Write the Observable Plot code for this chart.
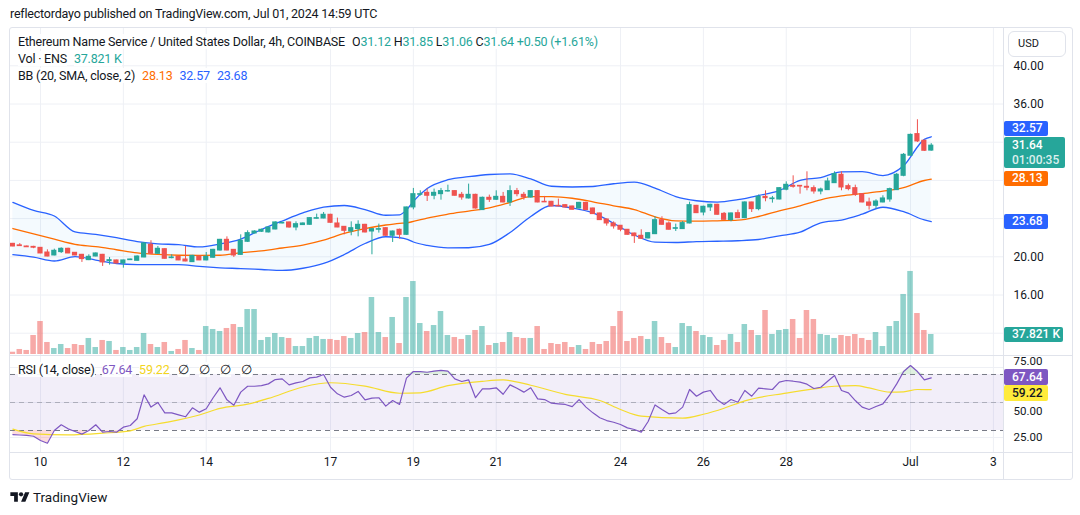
<!DOCTYPE html>
<html>
<head>
<meta charset="utf-8">
<script src="https://cdn.jsdelivr.net/npm/d3@7"></script>
<script src="https://cdn.jsdelivr.net/npm/@observablehq/plot@0.6"></script>
<style>
  html,body{margin:0;padding:0;background:#fff;}
  #root{position:relative;width:1080px;height:515px;overflow:hidden;font-family:Roboto,"Noto Sans",sans-serif;color:#131722;}
  #root svg{position:absolute;left:0;top:0;}
  .a{position:absolute;white-space:nowrap;}
  .lg{font-size:12.5px;line-height:16px;letter-spacing:-0.2px;}
  .lg span{background:rgba(255,255,255,0.92);}
  .lg span.g{margin-left:7px;}
  .tag{position:absolute;left:1004px;border-radius:2px;font-size:12px;font-weight:500;padding-left:8px;box-sizing:border-box;line-height:15px;white-space:nowrap;}
  .line{position:absolute;background:#e0e3eb;}
</style>
</head>
<body>
<div id="root"></div>
<script>
// ---------- data ----------
const open = [
 21.36,21.20,21.08,21.04,20.94,20.45,20.14,20.49,20.84,20.42,
 20.21,19.65,20.03,20.21,19.55,19.62,19.30,19.65,19.58,19.93,
 21.26,20.31,20.80,19.86,20.00,19.72,19.44,20.03,19.62,19.90,
 20.66,21.78,20.73,20.20,21.57,22.44,22.62,22.55,22.86,23.49,
 23.60,23.07,23.32,23.35,23.98,24.01,24.40,23.49,23.14,22.65,
 22.90,23.35,22.65,22.83,23.00,22.20,22.83,22.30,25.17,26.49,
 26.70,26.39,26.56,26.84,26.88,26.49,26.11,26.49,24.89,26.18,
 25.97,26.28,25.69,26.88,26.49,26.21,26.88,25.76,25.76,25.34,
 25.41,25.27,25.06,25.65,25.06,24.54,23.91,23.49,23.25,22.83,
 22.44,22.20,21.92,22.37,23.84,23.49,22.93,22.90,23.49,25.34,
 24.64,25.17,25.45,24.50,23.84,24.57,24.05,25.69,24.99,26.28,
 26.04,26.00,27.02,27.43,27.43,27.33,27.19,26.84,26.98,27.71,
 28.59,27.40,27.19,26.56,25.69,25.34,25.69,26.00,26.98,28.48,
 30.58,32.85,32.15,31.12];
const high = [
 21.40,21.38,21.12,21.10,20.96,20.73,20.80,20.94,20.90,20.45,
 20.25,20.21,20.40,20.25,19.93,19.65,19.65,19.75,20.10,21.45,
 21.68,21.08,20.85,20.21,20.05,21.08,20.15,20.05,20.45,20.78,
 21.82,22.09,20.76,22.30,22.72,22.72,22.90,23.10,23.66,23.63,
 23.63,23.66,23.55,24.10,24.47,24.64,24.45,24.05,23.17,23.66,
 23.77,23.40,22.95,23.42,23.05,22.70,22.90,25.20,27.16,26.91,
 27.09,27.09,27.16,27.50,26.92,26.74,27.61,26.55,26.25,26.46,
 26.91,26.74,27.43,27.16,26.74,26.92,26.92,26.32,25.80,26.04,
 25.45,25.30,25.70,25.72,25.10,24.57,23.95,23.66,23.28,22.86,
 22.48,22.83,22.52,24.19,24.19,23.66,23.42,23.70,25.72,25.38,
 25.30,25.50,25.50,24.64,24.58,24.89,25.75,25.72,26.46,26.91,
 26.32,27.22,27.85,28.48,27.46,28.90,27.43,27.19,28.24,28.90,
 28.90,27.61,27.50,26.60,26.14,25.97,26.39,27.19,28.73,30.82,
 32.85,34.35,32.22,31.85];
const low = [
 21.05,21.10,20.98,20.85,20.33,20.00,20.10,20.35,20.33,20.10,
 19.41,19.60,20.00,18.99,19.13,19.28,18.81,19.62,19.55,19.90,
 20.30,20.28,19.75,19.79,19.60,19.48,19.40,19.60,19.58,19.85,
 20.60,20.62,19.93,20.15,21.50,22.40,22.55,22.50,22.83,23.45,
 23.00,22.72,23.30,23.30,23.95,23.98,23.50,23.05,22.30,22.20,
 22.09,22.50,20.21,22.48,22.15,21.50,21.85,22.25,24.92,26.35,
 25.79,25.97,25.93,26.77,26.35,25.93,26.05,25.00,24.85,25.69,
 25.90,25.65,25.27,26.28,25.93,26.15,25.65,25.68,25.24,25.25,
 25.13,24.90,25.02,24.85,24.45,23.80,23.21,22.90,22.62,22.27,
 21.40,21.85,21.88,22.33,23.30,22.80,22.65,22.86,23.45,24.53,
 24.29,24.75,24.35,23.84,23.66,24.00,24.00,24.64,24.82,25.76,
 25.62,25.97,26.91,27.19,26.56,26.91,26.56,26.49,26.95,27.68,
 26.91,26.91,26.32,25.65,24.89,24.99,25.65,25.72,26.95,28.38,
 30.55,31.97,31.03,31.06];
const close = [
 21.08,21.12,21.00,20.95,20.35,20.03,20.63,20.84,20.35,20.14,
 19.76,20.00,20.35,19.41,19.65,19.30,19.62,19.72,20.03,21.40,
 20.31,20.84,19.79,19.93,19.62,19.51,20.10,19.62,20.00,20.73,
 21.78,20.66,20.14,21.68,22.48,22.65,22.83,23.07,23.60,23.56,
 23.07,23.42,23.49,24.05,24.05,24.40,23.56,23.07,22.72,23.00,
 23.35,22.55,22.90,22.90,22.20,22.65,22.30,25.17,26.56,26.56,
 26.39,26.70,26.88,26.88,26.39,26.21,26.49,25.06,26.18,25.97,
 26.28,25.69,26.88,26.56,26.21,26.88,25.69,25.70,25.27,25.28,
 25.17,24.92,25.65,24.89,24.47,23.84,23.49,23.18,22.83,22.30,
 22.16,21.88,22.48,23.84,23.35,22.83,23.00,23.53,25.41,24.57,
 25.24,25.45,24.40,23.87,24.54,24.05,25.69,24.99,26.28,26.14,
 26.11,27.19,27.54,27.33,27.36,27.23,26.84,27.05,27.89,28.66,
 27.26,27.09,26.49,25.69,25.34,25.79,26.11,27.09,28.59,30.68,
 32.77,32.08,31.10,31.64];
// volume in thousands of ENS
const volume = [
 4.3,9.5,7.6,35.9,62.4,22.7,11.3,18.9,11.3,18.9,
 17.0,30.3,13.2,26.5,24.6,7.6,13.2,7.6,13.2,39.7,
 18.9,13.2,22.7,5.7,9.5,26.5,11.3,7.6,52.9,47.3,
 43.5,49.2,56.7,51.1,85.1,85.1,26.5,32.1,39.7,32.1,
 30.3,15.1,15.1,30.3,34.0,28.4,28.4,26.5,34.0,30.3,
 39.7,41.6,107.8,41.6,32.1,70.0,20.8,107.8,138.0,58.6,
 43.5,54.8,81.3,35.9,32.1,28.4,35.9,45.4,52.9,17.0,
 20.8,22.7,41.6,32.1,30.3,30.3,52.9,9.5,20.8,18.9,
 22.7,13.2,17.0,9.5,22.7,18.9,24.6,52.9,81.3,24.6,
 30.3,34.0,28.4,62.4,32.1,20.8,13.2,58.6,52.9,43.5,
 35.9,32.1,17.0,26.5,37.8,22.7,56.7,45.4,35.9,83.2,
 37.8,45.4,47.3,66.2,30.3,83.2,66.2,37.8,35.9,30.3,
 35.9,34.0,37.8,30.3,26.5,41.6,15.1,52.9,62.4,113.5,
 157.0,77.5,45.4,37.821];
const rsi = [
 27.1,26.8,26.5,25.9,22.9,20.9,30.0,34.1,31.2,29.3,
 27.4,30.0,34.1,28.8,29.3,28.8,32.4,33.6,38.4,55.5,
 46.7,50.0,42.6,42.6,41.2,39.8,46.2,43.1,45.5,53.4,
 60.5,51.9,48.1,57.4,61.6,61.6,62.1,63.3,66.4,66.9,
 62.6,64.0,65.0,67.6,68.1,70.0,60.9,56.2,53.8,55.0,
 57.9,51.9,53.1,53.4,47.4,51.4,48.6,67.4,72.1,72.1,
 71.6,72.4,72.9,72.4,66.9,65.0,66.2,53.4,59.8,59.8,
 60.5,55.9,62.6,60.2,57.4,60.5,52.6,52.1,49.5,49.0,
 48.6,47.1,52.1,46.7,42.6,39.1,37.1,35.9,34.3,31.9,
 30.7,28.8,36.4,48.3,45.0,41.9,42.6,46.7,59.3,54.5,
 57.4,58.6,51.9,48.6,52.1,50.2,58.6,54.5,60.2,59.8,
 59.3,64.5,65.7,65.2,64.5,63.1,60.0,60.9,65.2,69.3,
 58.6,56.9,51.4,46.7,45.0,47.1,49.0,55.5,63.3,72.1,
 76.4,72.1,66.2,67.64];
// Bollinger band readings at selected candle indices
const bbIdx = [0,3,6,9,12,15,18,21,24,27,30,33,36,39,42,45,48,51,54,56,57,58,60,63,66,69,72,75,78,81,84,87,90,93,96,99,102,105,108,111,114,117,120,123,126,129,132,133];
const bbUpper = [25.69,24.85,24.27,22.60,22.34,22.00,21.60,21.36,21.27,21.03,21.34,21.86,22.86,23.75,24.59,25.21,25.37,24.95,24.35,24.40,24.90,25.81,27.15,28.07,28.39,28.62,28.69,28.15,27.39,27.31,27.36,27.65,27.83,27.20,26.31,25.87,25.72,25.98,26.42,26.94,27.99,28.30,28.90,28.91,28.51,29.53,32.30,32.57];
const bbMiddle = [22.96,22.39,21.84,21.31,21.06,20.74,20.42,20.25,20.16,20.14,20.16,20.43,20.62,20.92,21.23,21.74,22.45,22.94,23.33,23.51,23.56,23.70,24.06,24.46,24.79,25.13,25.69,26.31,26.30,26.13,25.76,25.34,24.95,24.19,23.77,23.73,23.77,23.83,24.22,24.81,25.34,25.97,26.37,26.61,26.87,27.24,27.99,28.13];
const bbLower = [20.22,19.96,19.56,20.01,19.66,19.30,19.19,19.19,19.19,18.99,18.85,18.77,18.67,18.57,18.80,19.30,20.24,21.39,22.10,22.00,21.86,21.55,21.20,20.94,20.95,21.29,22.54,24.22,25.37,25.11,24.59,23.51,22.28,21.53,21.50,21.59,21.63,21.68,21.81,22.20,22.58,23.56,23.85,24.46,25.19,24.72,23.86,23.68];
// RSI-based moving average readings
const maIdx = [0,3,8,13,17,19,22,27,30,34,37,42,46,51,56,59,63,68,71,75,80,85,88,91,97,100,103,106,112,116,119,122,124,127,129,131,133];
const rsiMA = [31.0,27.6,26.9,28.1,29.8,32.9,35.6,41.1,45.8,48.8,52.9,61.1,64.1,61.7,56.6,56.9,62.0,65.1,66.1,62.3,55.8,51.4,45.0,40.3,38.8,41.6,45.9,51.2,56.7,59.7,61.6,62.0,60.4,57.4,57.6,59.3,59.22];

const priceTicks = [40, 36, 20, 16];
const priceGrid = [12, 16, 20, 24, 28, 32, 36, 40];
const rsiTicks = [75, 50, 25];
const dateTickDays = ["2024-06-10","2024-06-12","2024-06-14","2024-06-17","2024-06-19","2024-06-21","2024-06-24","2024-06-26","2024-06-28","2024-07-01","2024-07-03"];
const dateTickLabels = ["10","12","14","17","19","21","24","26","28","Jul","3"];

// ---------- build ----------
const HOUR = 3600e3, DAY = 864e5;
const firstOpen = Date.UTC(2024, 5, 9, 8);
const candles = open.map((o, i) => ({t: new Date(firstOpen + i * 4 * HOUR), o, h: high[i], l: low[i], c: close[i], v: volume[i], r: rsi[i]}));
const UP = "#26a69a", DN = "#ef5350";
const col = d => d.c >= d.o ? UP : DN;
const vcol = d => d.c >= d.o ? "rgba(38,166,154,0.5)" : "rgba(239,83,80,0.5)";
const ref = Date.UTC(2024, 5, 10);
const xDomain = [new Date(ref - 0.7241 * DAY), new Date(ref + 23.244 * DAY)];
const tickDates = dateTickDays.map(s => new Date(s + "T00:00:00Z"));
const bb = bbIdx.map((i, k) => ({t: candles[i].t, up: bbUpper[k], mid: bbMiddle[k], lo: bbLower[k]}));
const ma = maIdx.map((i, k) => ({t: candles[i].t, v: rsiMA[k]}));
const GRID = "#eef0f5";
const FONT = "Roboto, 'Noto Sans', sans-serif";

const base = {
  width: 1080, height: 515, marginLeft: 10, marginRight: 77,
  x: {type: "utc", domain: xDomain, axis: null},
  style: `background:transparent;overflow:visible;font-family:${FONT};`
};
const bx1 = d => new Date(+d.t - 1.5 * HOUR), bx2 = d => new Date(+d.t + 1.5 * HOUR);
const vx1 = d => new Date(+d.t - 1.6 * HOUR), vx2 = d => new Date(+d.t + 1.6 * HOUR);

const main = Plot.plot({
  ...base, marginTop: 28, marginBottom: 160,
  y: {domain: [9.665, 43.906], axis: null},
  marks: [
    Plot.ruleY(priceGrid, {stroke: GRID}),
    Plot.ruleX(tickDates, {stroke: GRID}),
    Plot.areaY(bb, {x: "t", y1: "lo", y2: "up", fill: "#2196f3", fillOpacity: 0.05, curve: "monotone-x"}),
    Plot.line(bb, {x: "t", y: "up", stroke: "#2962ff", strokeWidth: 1.3, curve: "monotone-x"}),
    Plot.line(bb, {x: "t", y: "lo", stroke: "#2962ff", strokeWidth: 1.3, curve: "monotone-x"}),
    Plot.line(bb, {x: "t", y: "mid", stroke: "#ff6d00", strokeWidth: 1.3, curve: "monotone-x"}),
    Plot.ruleX(candles, {x: "t", y1: "l", y2: "h", stroke: col}),
    Plot.rect(candles, {x1: bx1, x2: bx2, y1: d => Math.min(d.o, d.c), y2: d => Math.max(d.o, d.c), fill: col, insetTop: -0.5, insetBottom: -0.5}),
    Plot.text(priceTicks, {y: d => d, text: d => d.toFixed(2), frameAnchor: "right", dx: 10, textAnchor: "start", fontSize: 12, fill: "#131722"})
  ]
});

const vol = Plot.plot({
  ...base, marginTop: 28, marginBottom: 161,
  y: {domain: [0, 616.5], axis: null},
  marks: [
    Plot.rect(candles, {x1: vx1, x2: vx2, y1: 0, y2: "v", fill: vcol})
  ]
});

const rsiLabel = (v, dy) => Plot.text([v], {y: d => d, text: d => d.toFixed(2), frameAnchor: "right", dx: 10, dy, textAnchor: "start", fontSize: 11.5, fill: "#131722"});
const rsiPlot = Plot.plot({
  ...base, marginTop: 355, marginBottom: 63,
  y: {domain: [14.29, 83.57], axis: null},
  marks: [
    Plot.ruleX(tickDates, {stroke: GRID}),
    Plot.ruleY(rsiTicks, {stroke: GRID}),
    Plot.rect([0], {x1: () => xDomain[0], x2: () => xDomain[1], y1: () => 30, y2: () => 70, fill: "#7e57c2", fillOpacity: 0.1}),
    Plot.areaY(candles, {x: "t", y1: 70, y2: d => Math.max(d.r, 70), fill: "#4caf50", fillOpacity: 0.18}),
    Plot.areaY(candles, {x: "t", y1: 30, y2: d => Math.min(d.r, 30), fill: "#f23645", fillOpacity: 0.18}),
    Plot.ruleY([70, 30], {stroke: "#787b86", strokeDasharray: "5,4"}),
    Plot.ruleY([50], {stroke: "#787b86", strokeOpacity: 0.5, strokeDasharray: "5,4"}),
    Plot.line(ma, {x: "t", y: "v", stroke: "#f5dc2e", strokeWidth: 1.2, curve: "monotone-x"}),
    Plot.line(candles, {x: "t", y: "r", stroke: "#7e57c2", strokeWidth: 1.2}),
    rsiLabel(rsiTicks[0], -6),
    rsiLabel(rsiTicks[1], 9),
    rsiLabel(rsiTicks[2], 0),
    Plot.text(tickDates, {x: d => d, text: (d, i) => dateTickLabels[i], frameAnchor: "bottom", dy: 13, fontSize: 12, fill: "#131722"})
  ]
});

const root = document.getElementById("root");
root.appendChild(main);
root.appendChild(vol);
root.appendChild(rsiPlot);

function el(cls, style, html) {
  const d = document.createElement("div");
  d.className = cls;
  d.setAttribute("style", style);
  if (html != null) d.innerHTML = html;
  root.appendChild(d);
  return d;
}
// frame and separators
el("a", "left:9px;top:27px;width:1064px;height:453px;border:1px solid #e0e3eb;box-sizing:border-box;border-radius:3px;");
el("line", "left:1003px;top:27px;width:1px;height:452px;");
el("line", "left:9px;top:355px;width:1063px;height:1px;");
el("line", "left:9px;top:452px;width:1063px;height:1px;");

// header
el("a", "left:10px;top:6px;font-size:12.5px;letter-spacing:-0.2px;line-height:16px;color:#131722;", "reflectordayo published on TradingView.com, Jul 01, 2024 14:59 UTC");

// legends
const T = s => `<span style="color:#26a69a">${s}</span>`;
el("a lg", "left:18px;top:34px;", `<span>Ethereum Name Service / United States Dollar, 4h, COINBASE</span><span class="g">O${T("31.12")} H${T("31.85")} L${T("31.06")} C${T("31.64")} ${T("+0.50 (+1.61%)")}</span>`);
el("a lg", "left:18px;top:51px;", `<span>Vol · ENS</span><span class="g" style="color:#26a69a">37.821 K</span>`);
el("a lg", "left:18px;top:68px;", `<span>BB (20, SMA, close, 2)</span><span class="g" style="color:#ff6d00">28.13</span><span class="g" style="color:#2962ff">32.57</span><span class="g" style="color:#2962ff">23.68</span>`);
el("a lg", "left:18px;top:362px;", `<span>RSI (14, close)</span><span class="g" style="color:#7e57c2">67.64</span><span class="g" style="color:#f2d420">59.22</span><span class="g" style="margin-left:9px">∅</span><span class="g" style="margin-left:10px">∅</span><span class="g" style="margin-left:10px">∅</span><span class="g" style="margin-left:10px">∅</span>`);

// USD box
el("a", "left:1008px;top:31px;width:58px;height:26px;border:1px solid #e0e3eb;border-radius:6px;box-sizing:border-box;font-size:11px;line-height:24px;padding-left:9px;background:#fff;", "USD");

// price tags
const yP = main.scale("y"), yV = vol.scale("y"), yR = rsiPlot.scale("y");
const lastTop = yP.apply(31.64) - 8;
el("tag", `top:${lastTop}px;height:31px;width:61px;background:#26a69a;color:#fff;padding-top:1px;`, `31.64<br><span style="color:rgba(255,255,255,0.85)">01:00:35</span>`);
const upTop = Math.min(yP.apply(32.57) - 7.5, lastTop - 16);
el("tag", `top:${upTop}px;height:15px;width:44px;background:#2962ff;color:#fff;`, "32.57");
el("tag", `top:${yP.apply(28.13) - 7.5}px;height:15px;width:44px;background:#ff6d00;color:#fff;`, "28.13");
el("tag", `top:${yP.apply(23.68) - 7.5}px;height:15px;width:44px;background:#2962ff;color:#fff;`, "23.68");
el("tag", `top:${yV.apply(37.821) - 7.5}px;height:15px;width:59px;background:#26a69a;color:#fff;`, "37.821 K");
const rTop = yR.apply(67.64) - 8;
el("tag", `top:${rTop}px;height:16px;width:44px;background:#7e57c2;color:#fff;line-height:16px;`, "67.64");
const mTop = Math.max(yR.apply(59.22) - 8, rTop + 16);
el("tag", `top:${mTop}px;height:16px;width:44px;background:#ffeb3b;color:#131722;line-height:16px;`, "59.22");

// TradingView logo
el("a", "left:10px;top:490px;", `<svg width="20" height="15" viewBox="0 0 36 28" style="position:static"><path d="M14 22H7V11H0V4h14v18zM28 22h-8l7.5-18h8L28 22z" fill="#131722"/><circle cx="20" cy="8" r="4" fill="#131722"/></svg>`);
el("a", "left:33px;top:489px;font-size:13.5px;line-height:16px;color:#131722;", "TradingView");
</script>
</body>
</html>
